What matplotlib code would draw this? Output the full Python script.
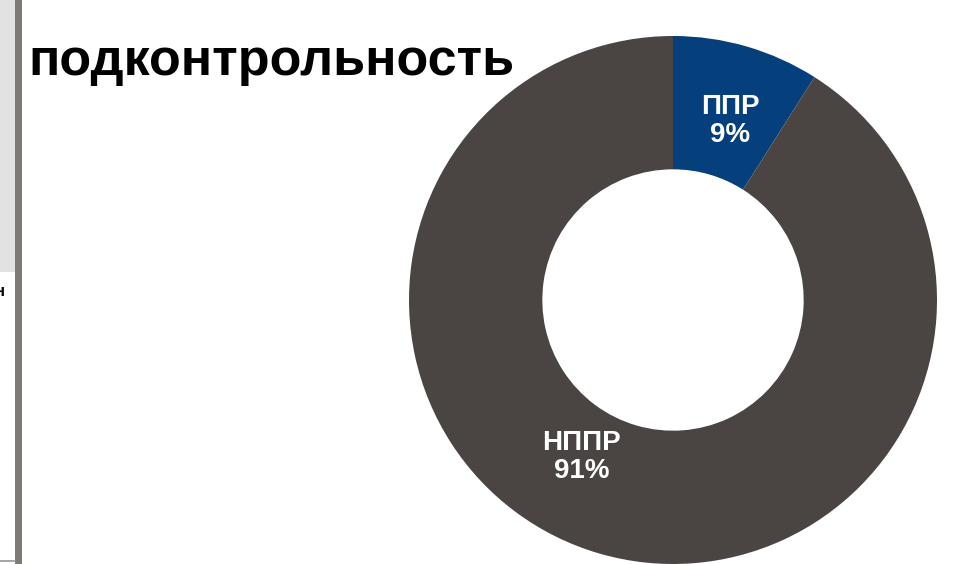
import matplotlib.pyplot as plt
from matplotlib.patches import Rectangle

# data
labels = ['ППР', 'НППР']
shares = [9, 91]
colors = ['#053f7c', '#4a4543']

plt.rcParams['font.family'] = ['Liberation Sans', 'DejaVu Sans']

fig = plt.figure(figsize=(9.56, 5.64), dpi=100)
ax = fig.add_axes([0, 0, 1, 1])
ax.set_xlim(0, 956)
ax.set_ylim(0, 564)
ax.set_aspect('equal')
ax.axis('off')

# slide leftovers on the left edge
ax.add_patch(Rectangle((0, 564 - 272), 15, 272, color='#e2e2e2', lw=0))
ax.add_patch(Rectangle((15, 0), 7, 564, color='#7f7a78', lw=0))
ax.plot([0, 15], [3, 3], color='#9a9592', lw=1.2)
ax.text(0, 564 - 291, 'н', fontsize=12, fontweight='bold', ha='center', va='center')

# donut
cx, cy, r = 673, 564 - 300, 264
wedges, _ = ax.pie(shares, colors=colors, startangle=90, counterclock=False,
                   center=(cx, cy), radius=r,
                   wedgeprops=dict(width=r * 0.505, linewidth=0))
ax.set_xlim(0, 956)
ax.set_ylim(0, 564)

# labels
label_pos = [(cx + 57, cy + 179), (cx - 91, cy - 157)]
for lab, val, (x, y) in zip(labels, shares, label_pos):
    ax.text(x, y, f'{lab}\n{val}%', color='white', fontsize=20, fontweight='bold',
            ha='center', va='center', linespacing=1.1)

ax.text(28, 564 - 61, 'подконтрольность', fontsize=37.5, fontweight='bold',
        ha='left', va='center', color='black')

fig.savefig('out.png', dpi=100)
